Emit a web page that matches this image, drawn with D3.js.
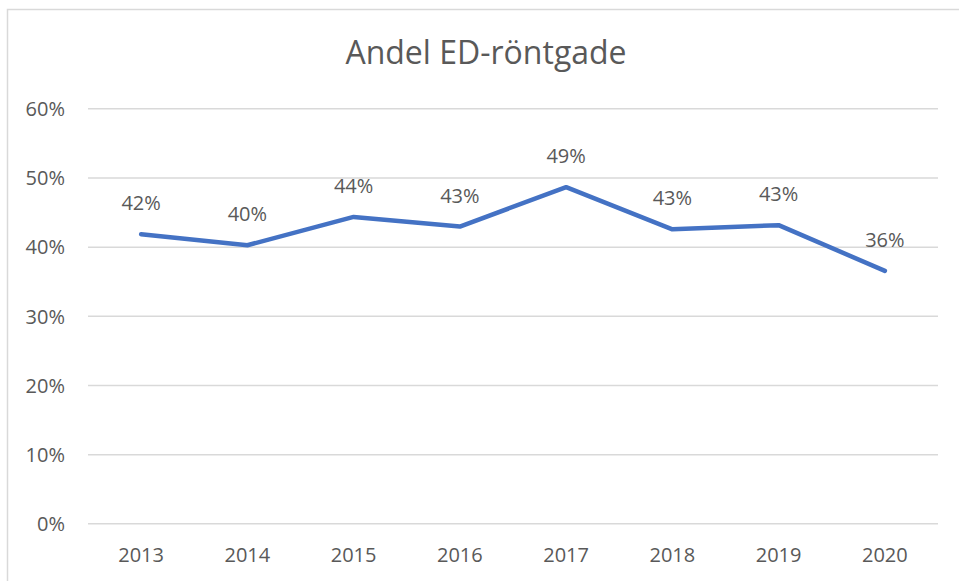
<!DOCTYPE html>
<html>
<head>
<meta charset="utf-8">
<script src="https://d3js.org/d3.v7.min.js"></script>
<style>
  body { margin: 0; background: #fff; }
  text { font-family: "Open Sans", sans-serif; fill: #595959; }
</style>
</head>
<body>
<svg id="chart" width="959" height="581"></svg>
<script>
// data
var years = ["2013", "2014", "2015", "2016", "2017", "2018", "2019", "2020"];
var andel = [0.418, 0.402, 0.443, 0.429, 0.486, 0.425, 0.431, 0.365];
var labels = ["42%", "40%", "44%", "43%", "49%", "43%", "43%", "36%"];
var yTicks = [0, 0.1, 0.2, 0.3, 0.4, 0.5, 0.6];

var svg = d3.select("#chart");

// chart frame (right and bottom edges fall outside the picture)
svg.append("rect")
  .attr("x", 7.5).attr("y", 9.5)
  .attr("width", 970).attr("height", 600)
  .attr("fill", "none")
  .attr("stroke", "#d9d9d9")
  .attr("stroke-width", 1.5);

var plotL = 88, plotR = 938, plotT = 108.3, plotB = 523.3;

var x = d3.scaleBand().domain(years).range([plotL, plotR]);
var y = d3.scaleLinear().domain([0, 0.6]).range([plotB, plotT]);

svg.append("text")
  .attr("x", 486).attr("y", 64)
  .attr("text-anchor", "middle")
  .style("font-size", "32px")
  .text("Andel ED-röntgade");

// gridlines + y labels
var yAxis = d3.axisLeft(y)
  .tickValues(yTicks)
  .tickSize(-(plotR - plotL))
  .tickPadding(23)
  .tickFormat(d3.format(".0%"));

var gy = svg.append("g")
  .attr("transform", "translate(" + plotL + ",0)")
  .call(yAxis);
gy.select(".domain").remove();
gy.selectAll(".tick line").attr("stroke", "#d9d9d9").attr("stroke-width", 1.5);
gy.selectAll(".tick text")
  .attr("fill", "#595959")
  .attr("dy", "0.36em")
  .style("font-size", "20px")
  .style("font-family", "'Open Sans', sans-serif");

// x labels
var xAxis = d3.axisBottom(x).tickSize(0).tickPadding(0);
var gx = svg.append("g")
  .attr("transform", "translate(0," + plotB + ")")
  .call(xAxis);
gx.select(".domain").remove();
gx.selectAll(".tick text")
  .attr("fill", "#595959")
  .attr("y", 39)
  .attr("dy", 0)
  .style("font-size", "20px")
  .style("font-family", "'Open Sans', sans-serif");

var cx = function(d, i) { return x(years[i]) + x.bandwidth() / 2; };

var line = d3.line()
  .x(function(d, i) { return cx(d, i); })
  .y(function(d) { return y(d); });

svg.append("path")
  .datum(andel)
  .attr("d", line)
  .attr("fill", "none")
  .attr("stroke", "#4472c4")
  .attr("stroke-width", 4.5)
  .attr("stroke-linecap", "round")
  .attr("stroke-linejoin", "round");

svg.selectAll(".lbl")
  .data(andel)
  .enter()
  .append("text")
  .attr("class", "lbl")
  .attr("x", cx)
  .attr("y", function(d) { return y(d) - 24; })
  .attr("text-anchor", "middle")
  .style("font-size", "20px")
  .text(function(d, i) { return labels[i]; });
</script>
</body>
</html>
